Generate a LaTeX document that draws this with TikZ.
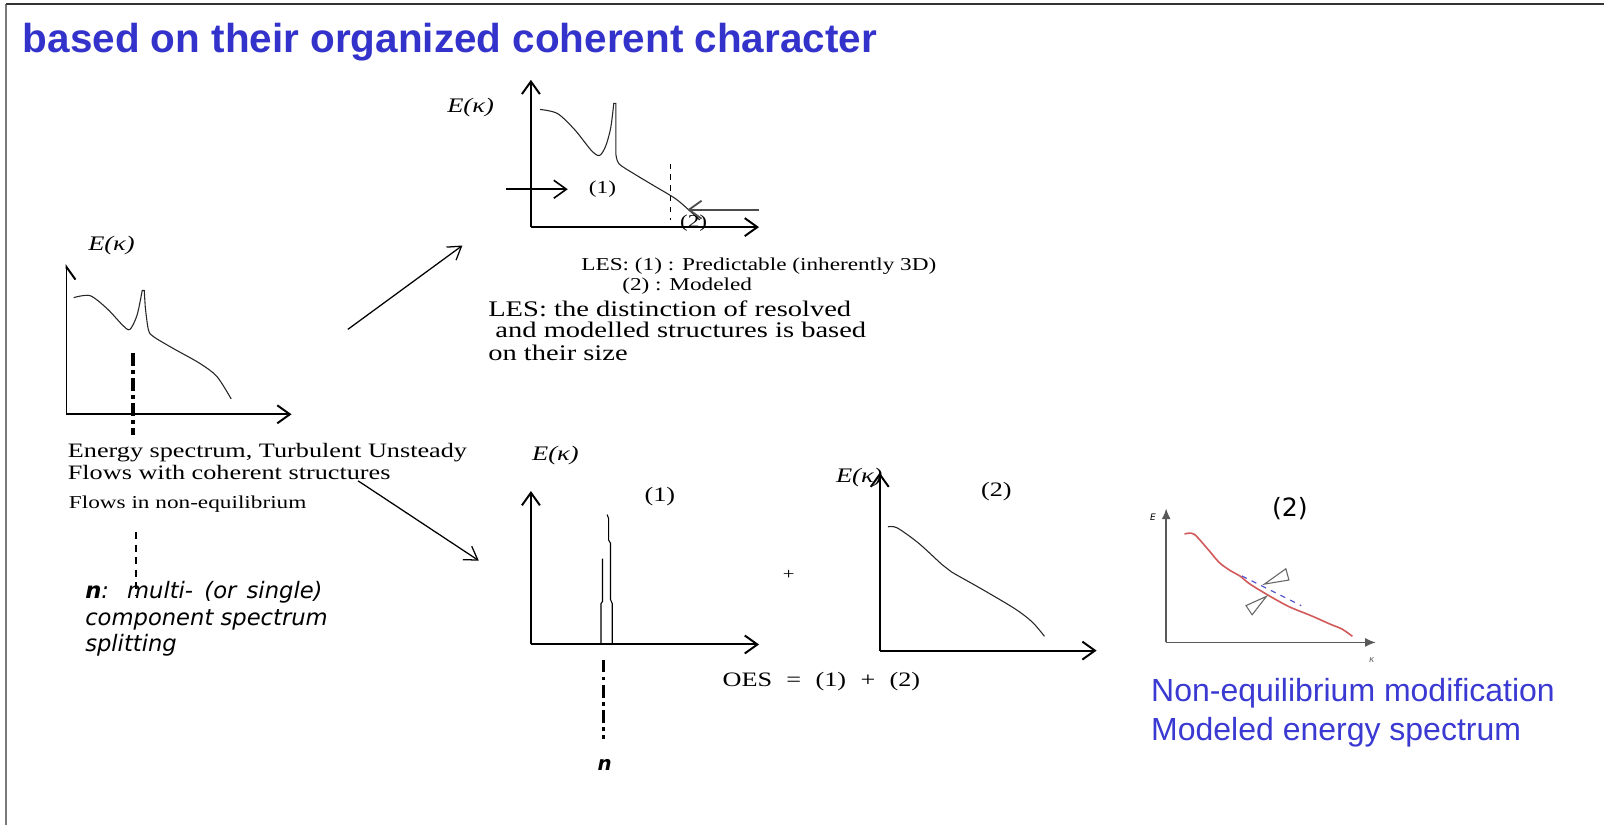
\documentclass[tikz,border=0pt]{standalone}
\usepackage{fontspec}
\usetikzlibrary{arrows.meta,positioning,calc}
\setmainfont{Liberation Serif}
\newfontfamily\wideserif[FakeStretch=1.28]{Liberation Serif}
\newfontfamily\headfont{Liberation Sans}
\newfontfamily\notefont{DejaVu Sans}
\definecolor{TitleBlue}{HTML}{3333CC}
\definecolor{NoteBlue}{HTML}{3A3AD2}
\definecolor{FrameGray}{HTML}{7A7A7A}
\definecolor{FrameDark}{HTML}{333333}
\definecolor{CurveRed}{HTML}{D25A5A}
\definecolor{CurveBlue}{HTML}{5A5AD0}

\begin{document}
\begin{tikzpicture}[x=0.02cm,y=-0.02cm,
    barb/.style={-{Straight Barb[length=7pt,width=10pt]}},
    axe/.style={line width=1.1pt,barb},
    curve/.style={line width=0.6pt,black!85},
    txt/.style={inner sep=0pt,anchor=base west,font=\wideserif\fontsize{11.4}{13}\selectfont},
    smalltxt/.style={txt,font=\wideserif\fontsize{10.1}{12}\selectfont},
    ek/.style={inner sep=0pt,font=\wideserif\itshape\fontsize{11.5}{13}\selectfont},
    note/.style={inner sep=0pt,anchor=base west,font=\notefont\itshape\fontsize{12.6}{15}\selectfont},
    bluenote/.style={inner sep=0pt,anchor=base west,text=NoteBlue,font=\headfont\fontsize{17.8}{21}\selectfont},
    dashdot/.style={line width=2pt,dash pattern=on 7pt off 2.5pt on 2pt off 2.5pt},
    flow/.style={line width=0.7pt,-{Straight Barb[length=7pt,width=9pt]}}]
  \useasboundingbox (0,0) rectangle (1568,806);
  % frame
  \draw[FrameGray,line width=1.2pt] (6,806) -- (6,4);
  \draw[FrameDark,line width=1.2pt] (6,4) -- (1568,4);
  \node[inner sep=0pt,anchor=base west,text=TitleBlue,font=\headfont\bfseries\fontsize{22.5}{26}\selectfont] (title) at (22,51) {based on their organized coherent character};

  % full spectrum
  \draw[line width=1.1pt,-{Straight Barb[harpoon,swap,length=7pt,width=10pt]}] (65,405) -- (65,258);
  \draw[axe] (65,405) -- (285,405);
  \node[ek] (ekA) at (109,240) {E(κ)};
  \draw[curve] plot[smooth] coordinates {(72,291) (88,289) (105,302) (120,318) (127,322) (134,308) (139,284)}
    -- (141,284) -- plot[smooth] coordinates {(142,300) (145,322) (150,329) (170,341) (195,355) (212,368) (226,390)};
  \draw[dashdot] (130,345) -- (130,425);
  \node[txt] (energy) at (66,447) {Energy spectrum, Turbulent Unsteady};
  \node[txt] (flows) at (66,469) {Flows with coherent structures};
  \node[smalltxt] (noneq) at (67,497) {Flows in non-equilibrium};
  \draw[line width=1.6pt,dash pattern=on 4pt off 3pt] (133,520) -- (133,583);
  \node[note] (split1) at (83,585) {\bfseries n\mdseries:\hspace{0.8em}multi-\hspace{0.5em}(or\hspace{0.45em}single)};
  \node[note] (split2) at (83,611) {component spectrum};
  \node[note] (split3) at (83,637) {splitting};

  % LES
  \draw[axe] (519,222) -- (519,78);
  \draw[axe] (519,222) -- (742,222);
  \node[ek] (ekB) at (460,105) {E(κ)};
  \draw[curve] plot[smooth] coordinates {(528,107) (545,111) (562,127) (578,147) (586,152) (592,143) (597,125) (600,101)}
    -- (602,101) -- plot[smooth] coordinates {(602,150) (605,160) (620,170) (640,182) (660,194) (672,204) (684,215)};
  \draw[line width=0.6pt,dashed] (655,160) -- (655,215);
  \node[smalltxt,anchor=center] (lesA) at (589,185) {(1)};
  \node[smalltxt,anchor=center] (lesB) at (678,218) {(2)};
  \coordinate (inA) at (495,185);
  \coordinate (outA) at (555,185);
  \coordinate (inB) at (742,205);
  \coordinate (outB) at (672,205);
  \draw[line width=0.9pt,barb] (inA) -- (outA);
  \draw[black!70,line width=1pt,barb] (inB) -- (outB);
  \node[smalltxt] (lesone) at (568,264) {LES: (1) : Predictable (inherently 3D)};
  \node[smalltxt] (lestwo) at (608,284) {(2) : Modeled};
  \node[txt,font=\wideserif\fontsize{12.4}{14}\selectfont] (size1) at (477,309) {LES: the distinction of resolved};
  \node[txt,font=\wideserif\fontsize{12.4}{14}\selectfont] (size2) at (477,330) {\ and modelled structures is based};
  \node[txt,font=\wideserif\fontsize{12.4}{14}\selectfont] (size3) at (477,352) {on their size};

  % splitting arrows
  \coordinate (fromUp) at (340,322);
  \coordinate (toUp) at (452,240);
  \coordinate (fromDown) at (350,470);
  \coordinate (toDown) at (468,548);
  \draw[flow] (fromUp) -- (toUp);
  \draw[flow] (fromDown) -- (toDown);

  % OES (1)
  \draw[axe] (519,630) -- (519,480);
  \draw[axe] (519,630) -- (742,630);
  \node[ek] (ekC) at (543,445) {E(κ)};
  \node[txt,anchor=center] (oneC) at (645,485) {(1)};
  \draw[line width=0.6pt] (587.5,630) -- (587.5,590) -- (589,588) -- (589,546);
  \draw[line width=0.6pt] (598.5,630) -- (598.5,590) -- (596.8,586) -- (596.8,531) -- (595,528) -- (595,507) -- (593.5,503);
  \draw[dashdot] (590,645) -- (590,722);
  \node[inner sep=0pt,font=\notefont\bfseries\itshape\fontsize{11}{13}\selectfont] (nmode) at (591,748) {n};
  \node[inner sep=0pt,font=\wideserif\fontsize{9}{10}\selectfont] (plus) at (771,562) {+};

  % OES (2)
  \draw[axe] (860,636) -- (860,462);
  \draw[axe] (860,636) -- (1072,636);
  \node[ek] (ekD) at (840,467) {E(κ)};
  \node[txt,anchor=center] (twoD) at (974,481) {(2)};
  \draw[curve] plot[smooth] coordinates {(868,515) (877,516) (898,531) (921,552) (930,559) (960,576) (992,595) (1009,608) (1021,622)};
  \node[txt] (oes) at (706,671) {OES\hspace{0.7em}=\hspace{0.7em}(1)\hspace{0.7em}+\hspace{0.7em}(2)};

  % modified spectrum
  \draw[black!65,line width=0.9pt,-{Latex[length=6pt,width=5pt]}] (1140,628) -- (1140,497);
  \draw[black!65,line width=0.9pt,-{Latex[length=6pt,width=5pt]}] (1140,628) -- (1345,628);
  \node[inner sep=0pt,font=\notefont\itshape\fontsize{5}{6}\selectfont] (eE) at (1127,506) {E};
  \node[inner sep=0pt,font=\notefont\itshape\fontsize{5}{6}\selectfont,text=black!60] (eK) at (1341,645) {κ};
  \node[inner sep=0pt,font=\notefont\fontsize{14}{16}\selectfont] (twoE) at (1261,497) {(2)};
  \draw[CurveRed,line width=0.9pt] plot[smooth] coordinates {(1158,522) (1167,522) (1180,536) (1192,550) (1203,558) (1212,563) (1222,571) (1240,582) (1260,593) (1282,602) (1300,610) (1312,615) (1322,622)};
  \draw[CurveBlue,line width=0.7pt,dashed] (1214,563) -- (1272,592);
  \draw[black!60,fill=white,line width=0.6pt] (1236,571) -- (1257,556) -- (1260,567) -- cycle;
  \draw[black!60,fill=white,line width=0.6pt] (1238,583) -- (1218,592) -- (1224,601) -- cycle;
  \node[bluenote] (nonEq) at (1125,686) {Non-equilibrium modification};
  \node[bluenote] (modeled) at (1125,724) {Modeled energy spectrum};
\end{tikzpicture}
\end{document}
